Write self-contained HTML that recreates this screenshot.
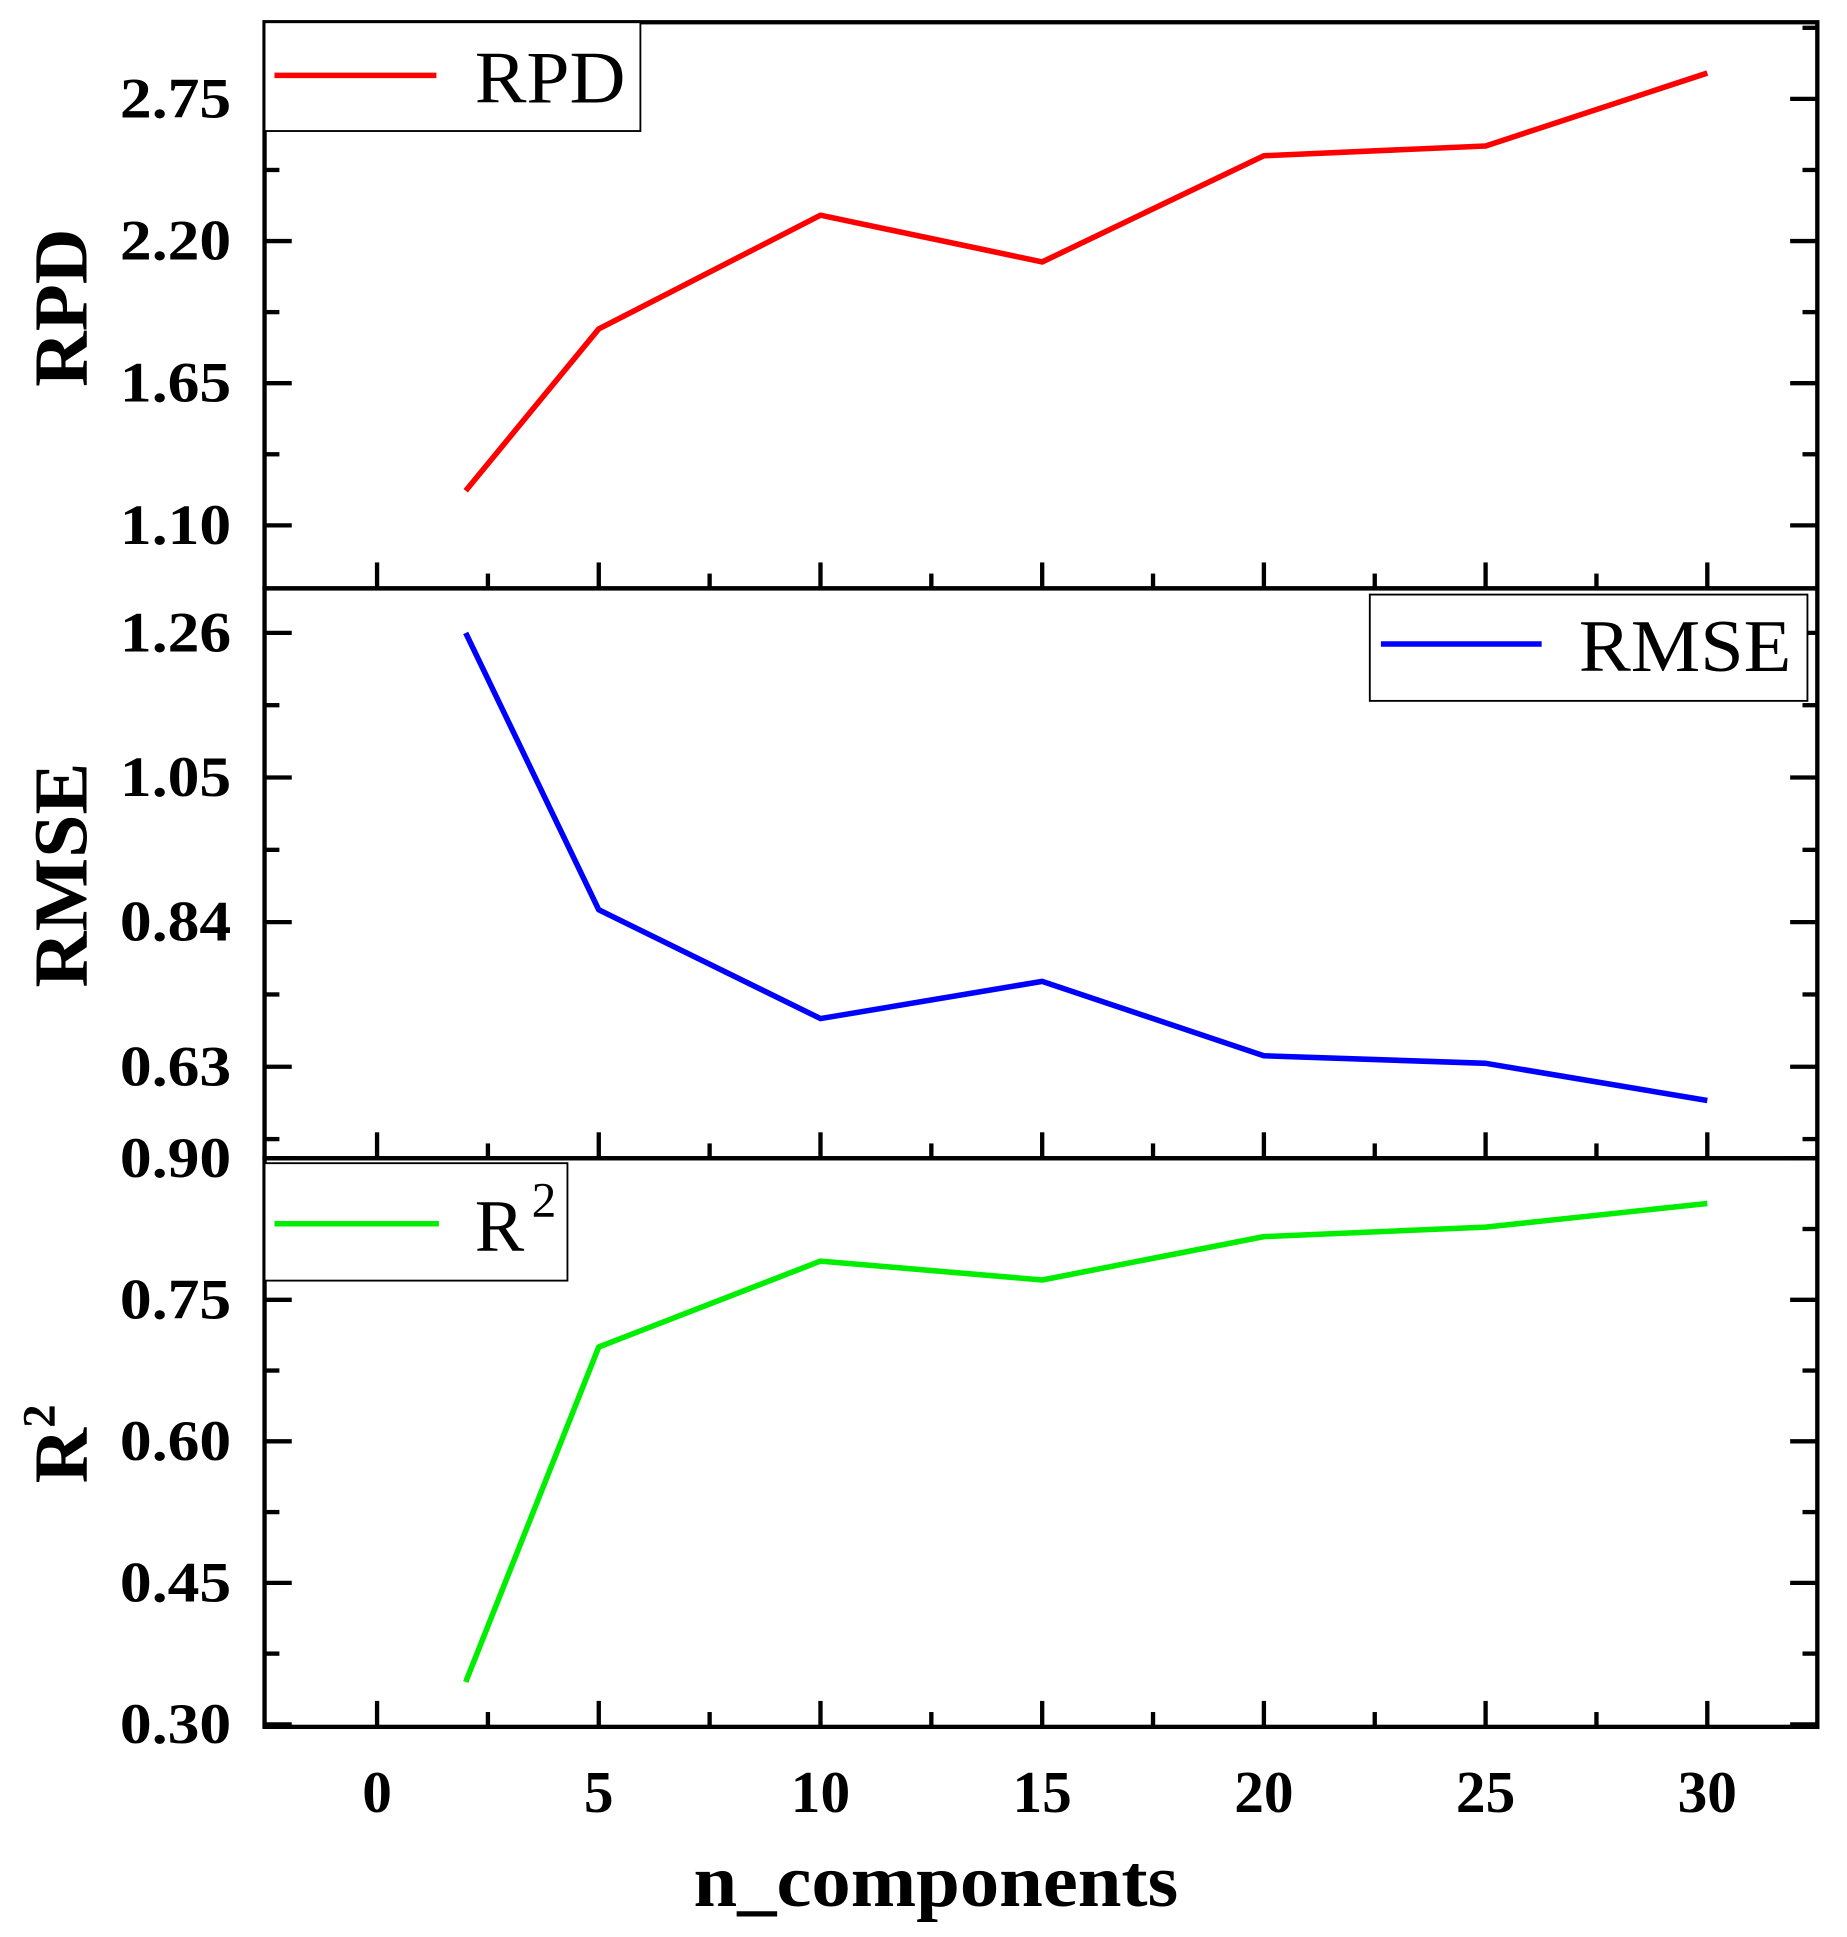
<!DOCTYPE html>
<html><head><meta charset="utf-8"><style>
html,body{margin:0;padding:0;background:#fff;}
svg{display:block;}
text{font-family:"Liberation Serif",serif;}
</style></head><body>
<svg id="chart" width="1847" height="1937" viewBox="0 0 1494 1567" preserveAspectRatio="none" xmlns="http://www.w3.org/2000/svg">
<g id="g"></g>
</svg>
<script>
const xValues = [2, 5, 10, 15, 20, 25, 30];
const rpdValues = [1.234, 1.860, 2.300, 2.119, 2.530, 2.568, 2.850];
const rmseValues = [1.26, 0.858, 0.700, 0.754, 0.646, 0.635, 0.581];
const r2Values = [0.345, 0.700, 0.791, 0.771, 0.817, 0.827, 0.852];
const xTicks = [0, 5, 10, 15, 20, 25, 30];
const rpdTicks = ["1.10", "1.65", "2.20", "2.75"];
const rmseTicks = ["0.63", "0.84", "1.05", "1.26"];
const r2Ticks = ["0.30", "0.45", "0.60", "0.75", "0.90"];

const NS = "http://www.w3.org/2000/svg";
const g = document.getElementById('g');
function el(tag, attrs, parent) {
  const e = document.createElementNS(NS, tag);
  for (const k in attrs) e.setAttribute(k, attrs[k]);
  (parent || g).appendChild(e);
  return e;
}
const L = 214, R = 1470;
function xs(v) { return 305 + (v - 0) * (1381 - 305) / 30; }

const panels = [
  {name:'rpd', top:18, bot:476, vals:rpdValues, ticks:rpdTicks, y0:1.10, y1:2.75, py0:425, py1:80, color:'#ff0000', title:'RPD', ty:249, tl:128},
  {name:'rmse', top:476, bot:937, vals:rmseValues, ticks:rmseTicks, y0:0.63, y1:1.26, py0:863, py1:512, color:'#0000ff', title:'RMSE', ty:708, tl:182},
  {name:'r2', top:937, bot:1397, vals:r2Values, ticks:r2Ticks, y0:0.30, y1:0.90, py0:1395, py1:937, color:'#00ee00', title:'R', ty:1168, tl:0}
];

panels.forEach(p => {
  const ys = v => p.py0 + (v - p.y0) * (p.py1 - p.py0) / (p.y1 - p.y0);
  const pg = el('g', {});
  
  
  const fr = el('rect', {x:L, y:p.top, width:R-L, height:p.bot-p.top, fill:'none', stroke:'#000', 'stroke-width':3.5}, pg);
  
  
  for (let i = 0; i < xTicks.length; i++) {
    const x = xs(xTicks[i]);
    const t = el('line', {x1:x, x2:x, y1:p.bot, y2:p.bot-21, stroke:'#000', 'stroke-width':3.5}, pg);
    
    
    if (i < xTicks.length - 1) {
      const xm = xs(xTicks[i] + 2.5);
      const m = el('line', {x1:xm, x2:xm, y1:p.bot, y2:p.bot-12, stroke:'#000', 'stroke-width':3.5}, pg);
      
      
    }
  }
  const step = (p.y1 - p.y0) / (p.ticks.length - 1);
  for (let i = 0; i < p.ticks.length; i++) {
    const v = parseFloat(p.ticks[i]);
    const y = ys(v);
    [[L, L+22], [R, R-22]].forEach(a => {
      const t = el('line', {x1:a[0], x2:a[1], y1:y, y2:y, stroke:'#000', 'stroke-width':3.5}, pg);
      
      
    });
    const lbl = el('text', {x:97, y:y+15, 'font-size':46, 'font-weight':'bold', textLength:90, lengthAdjust:'spacingAndGlyphs'}, pg);
    lbl.textContent = p.ticks[i];
    
    
  }
  for (let k = -2; k < p.ticks.length + 1; k++) {
    const v = p.y0 + (k + 0.5) * step;
    const y = ys(v);
    if (y <= p.top + 2 || y >= p.bot - 2) continue;
    [[L, L+12], [R, R-12]].forEach(a => {
      const t = el('line', {x1:a[0], x2:a[1], y1:y, y2:y, stroke:'#000', 'stroke-width':3.5}, pg);
      
      
    });
  }
  const pts = xValues.map((x, i) => xs(x).toFixed(1) + ',' + ys(p.vals[i]).toFixed(1)).join(' ');
  const line = el('polyline', {points:pts, fill:'none', stroke:p.color, 'stroke-width':4.5, 'stroke-linejoin':'round'}, pg);
  
  
  const attrs = {x:0, y:0, 'text-anchor':'middle', 'font-size':62, 'font-weight':'bold', transform:'translate(70,' + p.ty + ') rotate(-90)'};
  if (p.tl) { attrs.textLength = p.tl; attrs.lengthAdjust = 'spacingAndGlyphs'; }
  const tt = el('text', attrs, pg);
  tt.textContent = p.title;
  if (p.name === 'r2') {
    const sup = el('tspan', {'font-size':38, dy:-26}, tt);
    sup.textContent = '2';
  }
  
  
});

function legend(name, bx, by, bw, bh, ly, lx1, lx2, color, tx, label, sup, tl) {
  const lg = el('g', {});
  
  
  el('rect', {x:bx, y:by, width:bw, height:bh, fill:'#fff', stroke:'#000', 'stroke-width':1.5}, lg);
  el('line', {x1:lx1, x2:lx2, y1:ly, y2:ly, stroke:color, 'stroke-width':4.5}, lg);
  const a = {x:tx, y:ly + 22, 'font-size':60};
  if (tl) { a.textLength = tl; a.lengthAdjust = 'spacingAndGlyphs'; }
  const t = el('text', a, lg);
  t.textContent = label;
  if (sup) { const s = el('tspan', {'font-size':40, dy:-28, dx:6}, t); s.textContent = sup; }
}
legend('rpd-legend', 214, 18, 304, 88, 61, 222, 353, '#ff0000', 384, 'RPD', null, 122);
legend('rmse-legend', 1108, 481, 354, 86, 521, 1117, 1247, '#0000ff', 1277, 'RMSE', null, 172);
legend('r2-legend', 214, 941, 245, 95, 990, 222, 355, '#00ee00', 384, 'R', '2');

xTicks.forEach(v => {
  const t = el('text', {x:xs(v), y:1466, 'text-anchor':'middle', 'font-size':48, 'font-weight':'bold'});
  t.textContent = v;
  
  
});
const xt = el('text', {x:561, y:1542, 'font-size':60, 'font-weight':'bold', textLength:392, lengthAdjust:'spacingAndGlyphs'});
xt.textContent = 'n_components';


</script>
</body></html>
